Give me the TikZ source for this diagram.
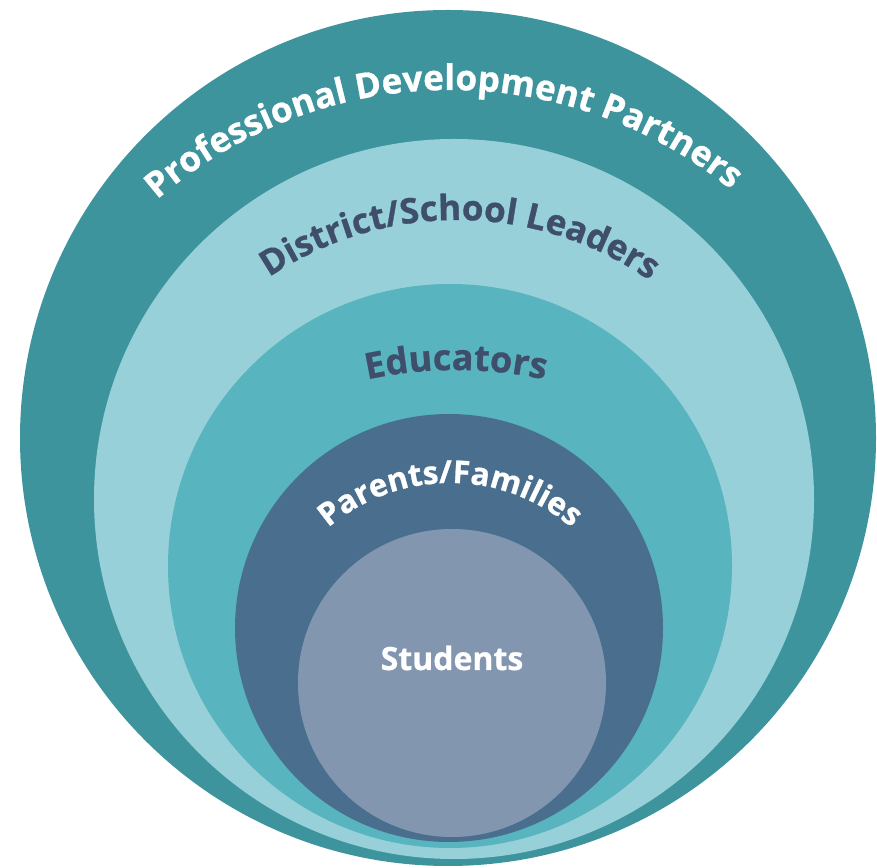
\documentclass[tikz,border=0pt]{standalone}
\usepackage{fontspec}
\setmainfont[BoldFeatures={FakeBold=0.8}]{Open Sans}
\usetikzlibrary{decorations.text}
\definecolor{ringA}{HTML}{3D949D}
\definecolor{ringB}{HTML}{97D0D8}
\definecolor{ringC}{HTML}{58B4BF}
\definecolor{ringD}{HTML}{4A6F8E}
\definecolor{ringE}{HTML}{8396B0}
\definecolor{darktxt}{HTML}{3E4E6B}
\tikzset{
  ring/.style={fill=#1, draw=none},
  arctext/.style n args={3}{decorate, decoration={text along path, text align=center,
      text color=#1, text={|\fontsize{#2}{#2}\selectfont\bfseries|#3}}},
}
\begin{document}
\begin{tikzpicture}
\useasboundingbox (0pt,0pt) rectangle (877pt,867pt);
\fill[ring=ringA] (448pt,429pt) circle[radius=428pt];
\fill[ring=ringB] (454pt,368pt) circle[radius=360pt];
\fill[ring=ringC] (450pt,301pt) circle[radius=282pt];
\fill[ring=ringD] (449pt,239pt) circle[radius=214pt];
\fill[ring=ringE] (452pt,184pt) circle[radius=154pt];
% arc texts
\path[arctext={white}{35.2}{Professional Development Partners}]
  ([shift={(141.0:446pt)}]450pt,331pt) arc[start angle=141.0, end angle=41.0, radius=446pt];
\path[arctext={darktxt}{35}{District/School Leaders}]
  ([shift={(139.5:337pt)}]457pt,310pt) arc[start angle=139.5, end angle=39.5, radius=337pt];
\path[arctext={darktxt}{36}{Educators}]
  ([shift={(120:420pt)}]456pt,77pt) arc[start angle=120, end angle=60, radius=420pt];
\path[arctext={white}{31.5}{Parents/Families}]
  ([shift={(150:188pt)}]450pt,196pt) arc[start angle=150, end angle=30, radius=188pt];
\node[anchor=base, text=white, font=\fontsize{32}{32}\selectfont\bfseries, inner sep=0pt] (students) at (452pt,197pt) {Students};
\end{tikzpicture}
\end{document}
